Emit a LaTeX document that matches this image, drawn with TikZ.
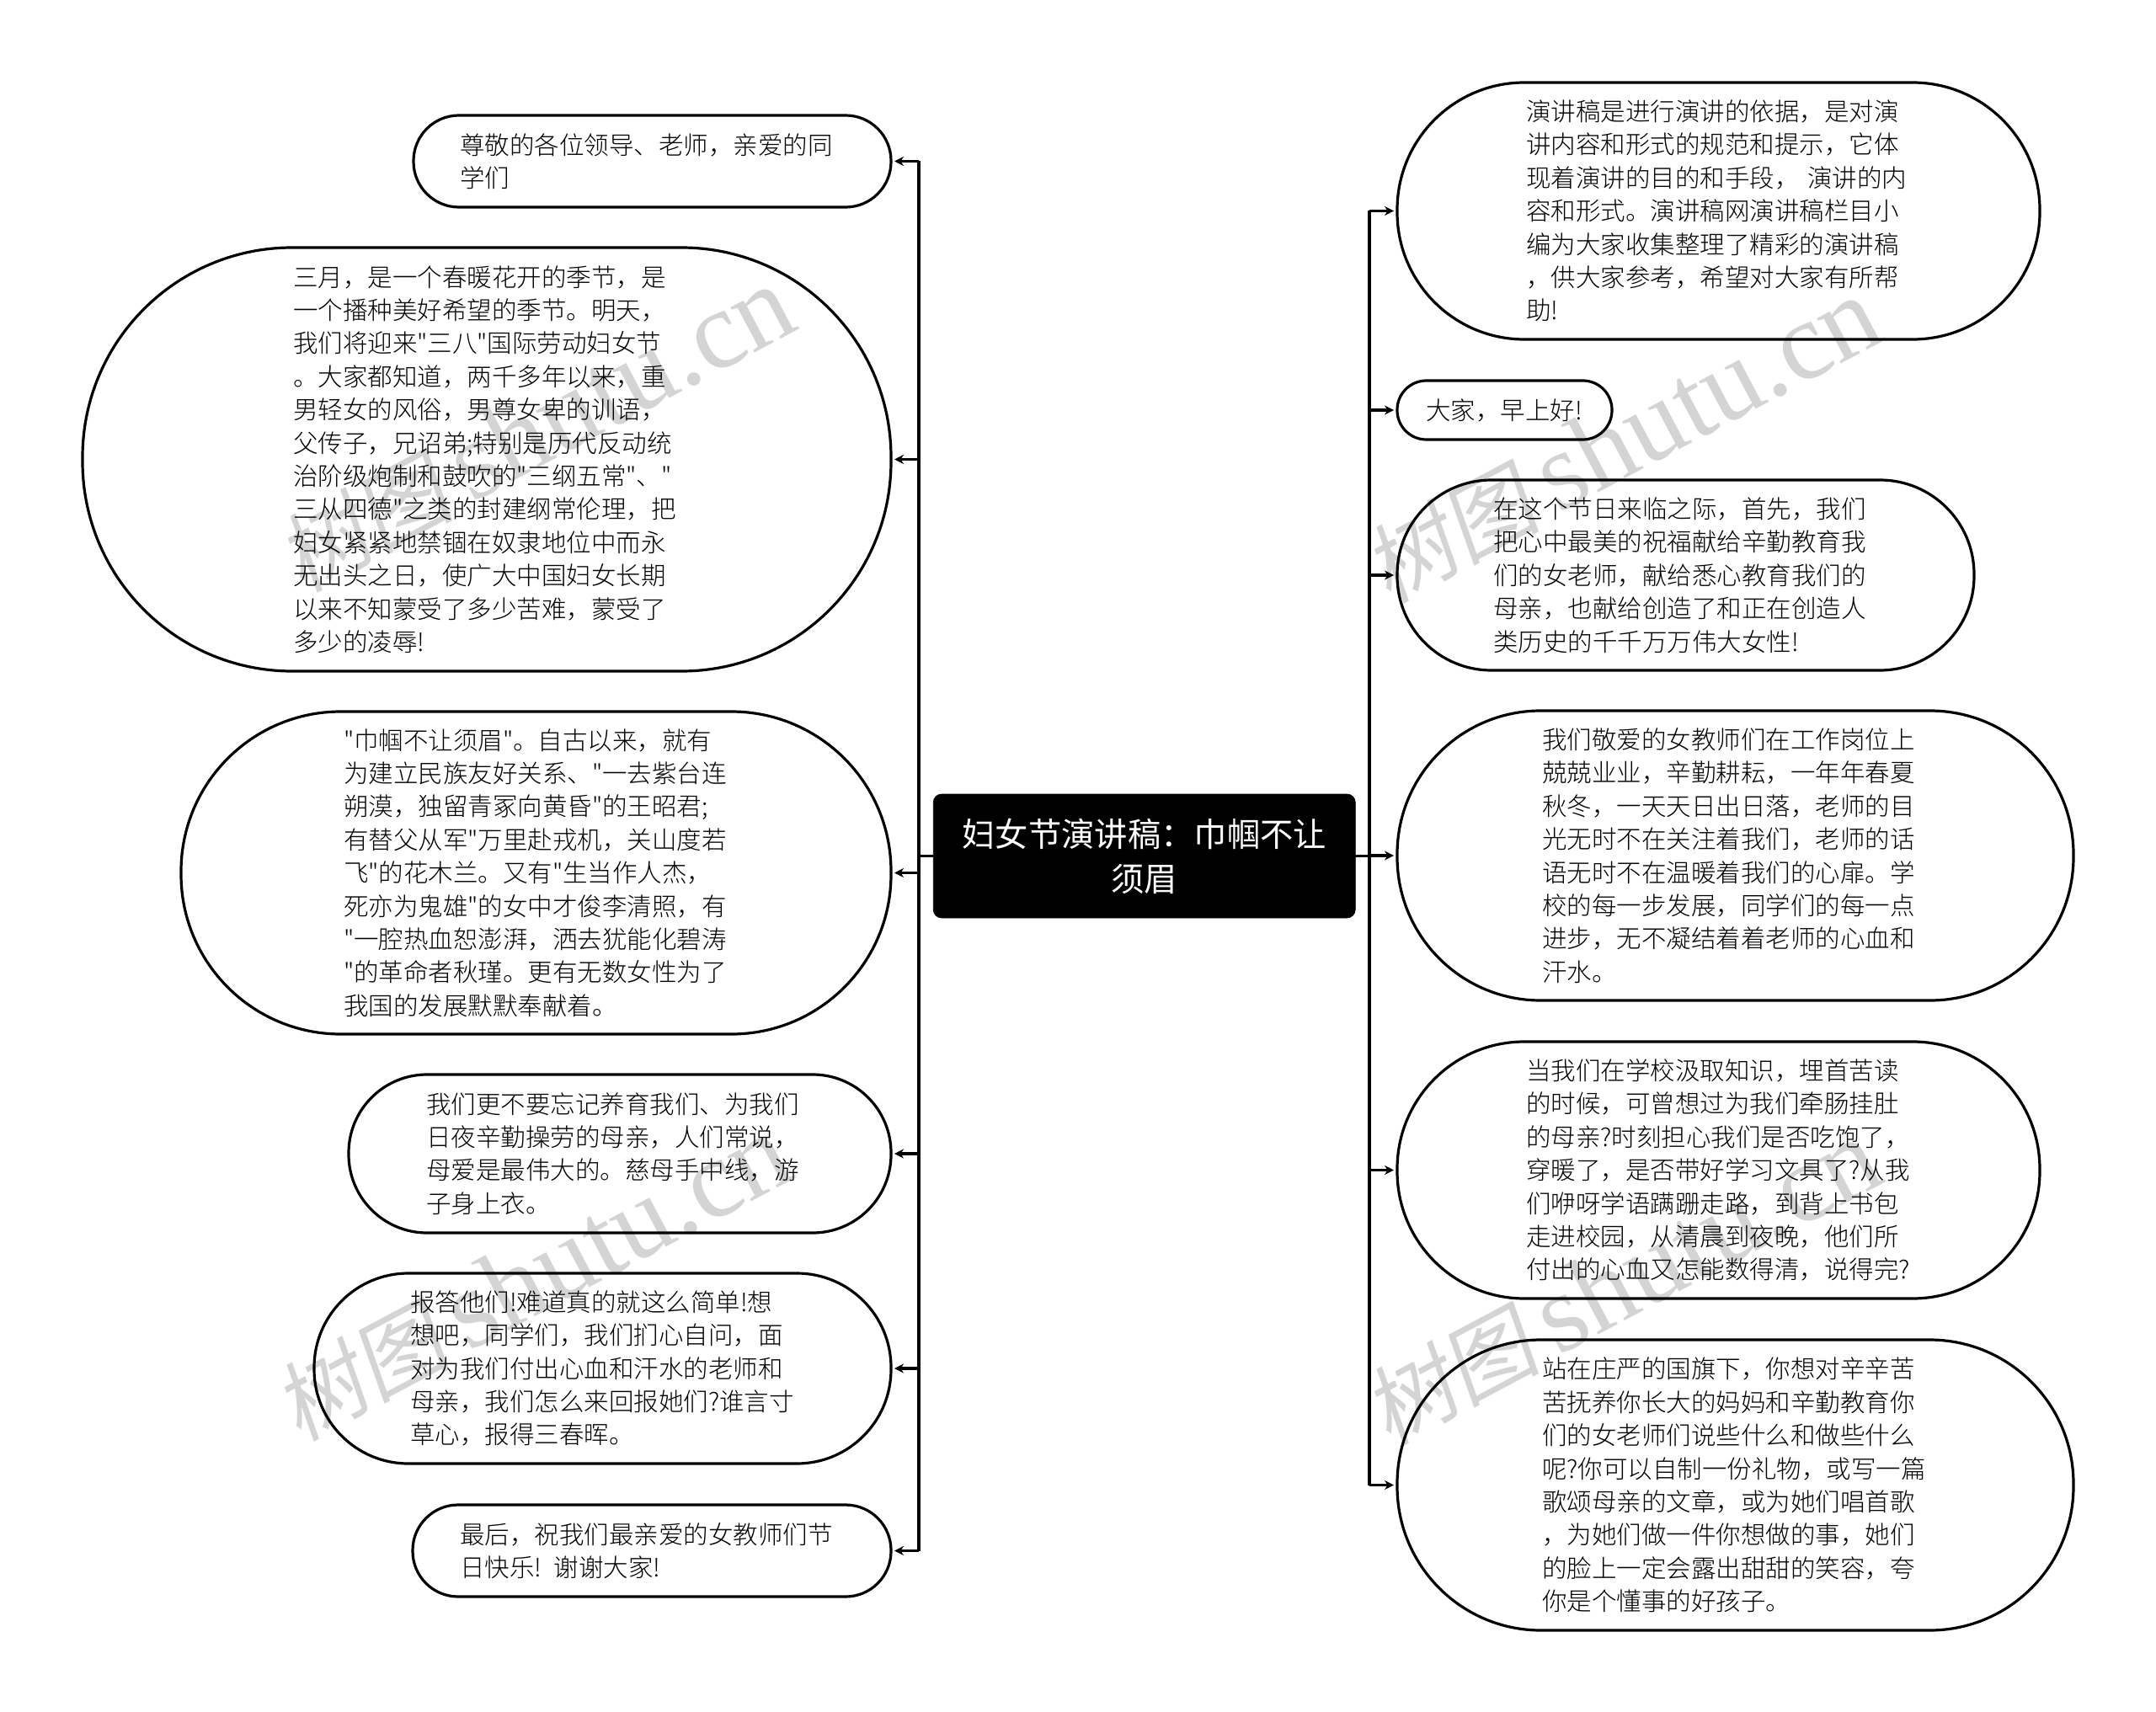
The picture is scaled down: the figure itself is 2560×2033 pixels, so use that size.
\documentclass[tikz,border=0pt]{standalone}
\usepackage{fontspec}
\newfontfamily\cnlight{Noto Sans CJK SC}[UprightFont=* Light]
\newfontfamily\cnreg{Noto Sans CJK SC}
\newfontfamily\wmlatin{Liberation Serif}
\newfontfamily\wmcjk{Noto Sans CJK SC}[FakeSlant=0.15]
\usetikzlibrary{arrows.meta}
\definecolor{wmgray}{HTML}{D4D4D4}
\tikzset{
  x=.5pt,y=-.5pt,
  bubble/.style={draw=black,line width=1.6pt,outer sep=0pt,inner ysep=0pt,align=left,
    font=\cnlight\fontsize{14.75pt}{19.7pt}\selectfont,text=black},
  mainbox/.style={fill=black,draw=black,rounded corners=5pt,outer sep=0pt,inner sep=0pt,
    minimum width=250.5pt,minimum height=73.5pt,text width=236pt,align=center,text=white,
    font=\cnreg\fontsize{19.65pt}{26.5pt}\selectfont},
  wire/.style={line width=1.6pt,black},
  wirearrow/.style={wire,-{Stealth[length=5.5pt,width=5.5pt]},shorten >=2pt},
  wmark/.style={text=wmgray,rotate=28,inner sep=0pt}
}
\newcommand{\bub}[7]{%
  \pgfmathsetmacro{\bubw}{(#4-#2)*.5}%
  \pgfmathsetmacro{\bubh}{(#5-#3)*.5}%
  \pgfmathsetmacro{\bubp}{(#6-#2)*.5}%
  \pgfmathsetmacro{\bubr}{\bubh*.495}%
  \pgfmathsetmacro{\bubt}{\bubw-2*\bubp}%
  \node[bubble,rounded corners=\bubr pt,minimum width=\bubw pt,minimum height=\bubh pt,
    inner xsep=\bubp pt,text width=\bubt pt] (#1) at ({(#2+#4)/2},{(#3+#5)/2}) {#7};%
}
\newcommand{\wmtext}{{\wmcjk\fontsize{52pt}{60pt}\selectfont 树图}\hspace{10pt}{\wmlatin\fontsize{66pt}{66pt}\selectfont shutu.cn}}
\begin{document}
\begin{tikzpicture}
\useasboundingbox (0,0) rectangle (2560,2033);
\fill[white] (0,0) rectangle (2560,2033);
% watermarks
\node[wmark] (w1) at (636,510) {\wmtext};
\node[wmark] (w2) at (632,1518) {\wmtext};
\node[wmark] (w3) at (1926,523) {\wmtext};
\node[wmark] (w4) at (1926,1523) {\wmtext};
% central topic
\node[mainbox] (main) at (1358.75,1016.5) {妇女节演讲稿：巾帼不让\\须眉};
% left
\bub{n1}{491}{137}{1058}{246}{546}{尊敬的各位领导、老师，亲爱的同\\学们}
\bub{n2}{98}{294}{1058}{797}{348}{三月，是一个春暖花开的季节，是\\一个播种美好希望的季节。明天，\\我们将迎来"三八"国际劳动妇女节\\。大家都知道，两千多年以来，重\\男轻女的风俗，男尊女卑的训语，\\父传子，兄诏弟;特别是历代反动统\\治阶级炮制和鼓吹的"三纲五常"、"\\三从四德"之类的封建纲常伦理，把\\妇女紧紧地禁锢在奴隶地位中而永\\无出头之日，使广大中国妇女长期\\以来不知蒙受了多少苦难，蒙受了\\多少的凌辱!}
\bub{n3}{215}{845}{1058}{1228}{408}{"巾帼不让须眉"。自古以来，就有\\为建立民族友好关系、"一去紫台连\\朔漠，独留青冢向黄昏"的王昭君;\\有替父从军"万里赴戎机，关山度若\\飞"的花木兰。又有"生当作人杰，\\死亦为鬼雄"的女中才俊李清照，有\\"一腔热血恕澎湃，洒去犹能化碧涛\\"的革命者秋瑾。更有无数女性为了\\我国的发展默默奉献着。}
\bub{n4}{414}{1276}{1058}{1464}{506}{我们更不要忘记养育我们、为我们\\日夜辛勤操劳的母亲，人们常说，\\母爱是最伟大的。慈母手中线，游\\子身上衣。}
\bub{n5}{373}{1512}{1058}{1738}{487}{报答他们!难道真的就这么简单!想\\想吧，同学们，我们扪心自问，面\\对为我们付出心血和汗水的老师和\\母亲，我们怎么来回报她们?谁言寸\\草心，报得三春晖。}
\bub{n6}{490}{1787}{1058}{1896}{546}{最后，祝我们最亲爱的女教师们节\\日快乐! 谢谢大家!}
% right
\bub{r1}{1659}{98}{2422}{403}{1812}{演讲稿是进行演讲的依据，是对演\\讲内容和形式的规范和提示，它体\\现着演讲的目的和手段， 演讲的内\\容和形式。演讲稿网演讲稿栏目小\\编为大家收集整理了精彩的演讲稿\\，供大家参考，希望对大家有所帮\\助!}
\bub{r2}{1659}{452}{1914}{522}{1693}{大家，早上好!}
\bub{r3}{1659}{570}{2344}{796}{1773}{在这个节日来临之际，首先，我们\\把心中最美的祝福献给辛勤教育我\\们的女老师，献给悉心教育我们的\\母亲，也献给创造了和正在创造人\\类历史的千千万万伟大女性!}
\bub{r4}{1659}{844}{2462}{1188}{1831}{我们敬爱的女教师们在工作岗位上\\兢兢业业，辛勤耕耘，一年年春夏\\秋冬，一天天日出日落，老师的目\\光无时不在关注着我们，老师的话\\语无时不在温暖着我们的心扉。学\\校的每一步发展，同学们的每一点\\进步，无不凝结着着老师的心血和\\汗水。}
\bub{r5}{1659}{1237}{2422}{1542}{1812}{当我们在学校汲取知识，埋首苦读\\的时候，可曾想过为我们牵肠挂肚\\的母亲?时刻担心我们是否吃饱了，\\穿暖了，是否带好学习文具了?从我\\们咿呀学语蹒跚走路，到背上书包\\走进校园，从清晨到夜晚，他们所\\付出的心血又怎能数得清，说得完?}
\bub{r6}{1659}{1591}{2462}{1936}{1831}{站在庄严的国旗下，你想对辛辛苦\\苦抚养你长大的妈妈和辛勤教育你\\们的女老师们说些什么和做些什么\\呢?你可以自制一份礼物，或写一篇\\歌颂母亲的文章，或为她们唱首歌\\，为她们做一件你想做的事，她们\\的脸上一定会露出甜甜的笑容，夸\\你是个懂事的好孩子。}
% connectors
\coordinate (tl) at (1091,1016.5);
\coordinate (tr) at (1626,1016.5);
\draw[wire] (main.west) -- (tl);
\draw[wire] (main.east) -- (tr);
\draw[wire] (tl|-n1.east) -- (tl|-n6.east);
\draw[wire] (tr|-r1.west) -- (tr|-r6.west);
\foreach \n in {n1,n2,n3,n4,n5,n6} \draw[wirearrow] (tl|-\n.east) -- (\n.east);
\foreach \n in {r1,r2,r3,r4,r5,r6} \draw[wirearrow] (tr|-\n.west) -- (\n.west);
\end{tikzpicture}
\end{document}
